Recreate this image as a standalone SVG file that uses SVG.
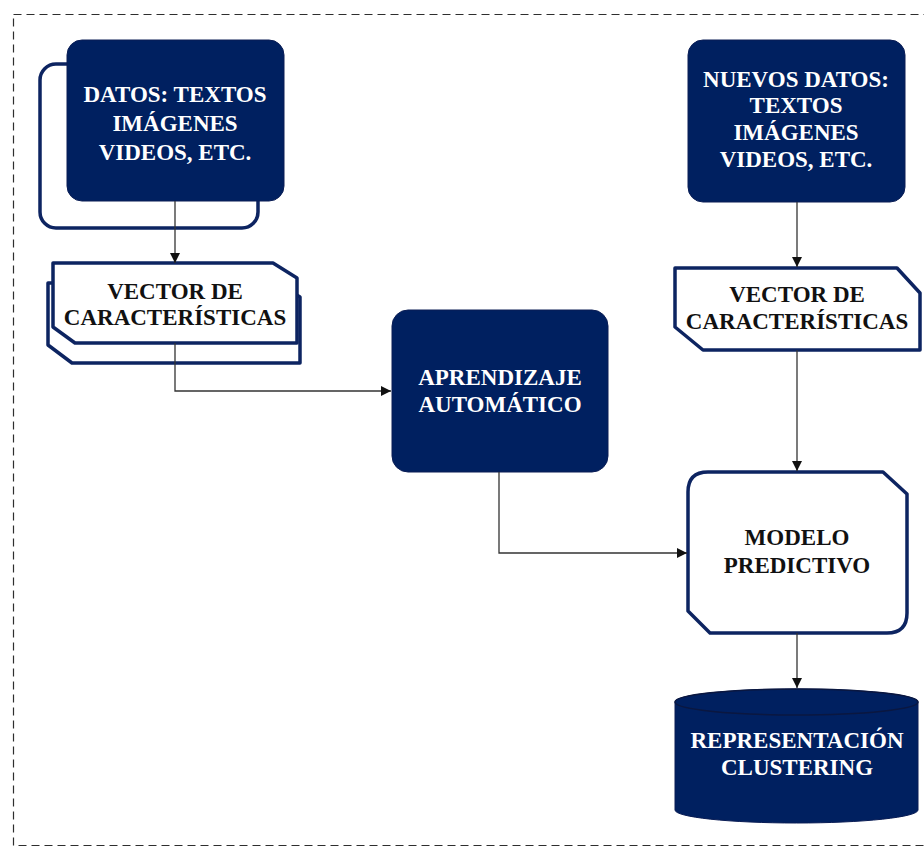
<svg xmlns="http://www.w3.org/2000/svg" width="924" height="848" viewBox="0 0 924 848">
  <defs>
    <marker id="arrow" viewBox="0 0 10 10" refX="10" refY="5" markerWidth="10" markerHeight="10" markerUnits="userSpaceOnUse" orient="auto">
      <path d="M0,0 L10,5 L0,10 z" fill="#111"/>
    </marker>
    <style>
      .frame { fill: none; stroke: #2e2e2e; stroke-width: 1.2; stroke-dasharray: 8 5; }
      .dark { fill: #002060; stroke: #0a1d55; stroke-width: 1; }
      .outline { fill: #fff; stroke: #0d2461; stroke-width: 3.5; stroke-linejoin: round; }
      .conn { fill: none; stroke: #333; stroke-width: 1.3; }
      .lbl { font-family: "Liberation Serif", "Times New Roman", serif; font-weight: bold; font-size: 23px; text-anchor: middle; }
      .w { fill: #fff; }
      .k { fill: #111; }
    </style>
  </defs>

  <rect width="924" height="848" fill="#fff"/>
  <rect class="frame" x="13.5" y="14.5" width="930" height="831"/>

  <!-- source data (stacked) -->
  <g id="datos">
    <rect class="outline" x="40" y="64" width="218" height="164" rx="16"/>
    <rect class="dark" x="67" y="40" width="217" height="161" rx="15"/>
    <text class="lbl w" x="175" y="102">DATOS: TEXTOS</text>
    <text class="lbl w" x="175" y="131">IMÁGENES</text>
    <text class="lbl w" x="175" y="160">VIDEOS, ETC.</text>
  </g>

  <!-- feature vector (stacked cards) -->
  <g id="vector1">
    <polygon class="outline" points="48,283 277,283 300,297 300,363 72,363 48,345"/>
    <polygon class="outline" points="53,263 273,263 297,278 297,343 75,343 53,327"/>
    <text class="lbl k" x="175" y="299">VECTOR DE</text>
    <text class="lbl k" x="175" y="325">CARACTERÍSTICAS</text>
  </g>

  <!-- machine learning -->
  <g id="aprendizaje">
    <rect class="dark" x="392" y="310" width="216" height="162" rx="16"/>
    <text class="lbl w" x="500" y="385">APRENDIZAJE</text>
    <text class="lbl w" x="500" y="412">AUTOMÁTICO</text>
  </g>

  <!-- new data -->
  <g id="nuevos">
    <rect class="dark" x="688" y="40" width="217" height="162" rx="15"/>
    <text class="lbl w" x="796" y="87">NUEVOS DATOS:</text>
    <text class="lbl w" x="796" y="113">TEXTOS</text>
    <text class="lbl w" x="796" y="140">IMÁGENES</text>
    <text class="lbl w" x="796" y="167">VIDEOS, ETC.</text>
  </g>

  <!-- feature vector for new data -->
  <g id="vector2">
    <polygon class="outline" points="675,268 897,268 920,293 920,350 703,350 675,327"/>
    <text class="lbl k" x="797" y="302">VECTOR DE</text>
    <text class="lbl k" x="797" y="329">CARACTERÍSTICAS</text>
  </g>

  <!-- predictive model -->
  <g id="modelo">
    <path class="outline" d="M708,472 L883,472 L907,494 L907,613 Q907,633 887,633 L710,633 L688,611 L688,492 Q688,472 708,472 Z"/>
    <text class="lbl k" x="797" y="545">MODELO</text>
    <text class="lbl k" x="797" y="573">PREDICTIVO</text>
  </g>

  <!-- clustering output (cylinder) -->
  <g id="clustering">
    <path class="dark" d="M675,702 L675,810 A121.5,13 0 0 0 918,810 L918,702 A121.5,13 0 0 0 675,702 Z"/>
    <ellipse cx="796.5" cy="702" rx="121.5" ry="13" fill="#002060" stroke="#0a1740" stroke-width="1.5"/>
    <text class="lbl w" x="797" y="748">REPRESENTACIÓN</text>
    <text class="lbl w" x="797" y="775">CLUSTERING</text>
  </g>

  <g id="connectors">
    <path class="conn" d="M175,201 L175,263" marker-end="url(#arrow)"/>
    <path class="conn" d="M175,343 L175,391 L391,391" marker-end="url(#arrow)"/>
    <path class="conn" d="M499,472 L499,553 L687,553" marker-end="url(#arrow)"/>
    <path class="conn" d="M797,202 L797,267" marker-end="url(#arrow)"/>
    <path class="conn" d="M797,350 L797,471" marker-end="url(#arrow)"/>
    <path class="conn" d="M797,633 L797,688" marker-end="url(#arrow)"/>
  </g>
</svg>
